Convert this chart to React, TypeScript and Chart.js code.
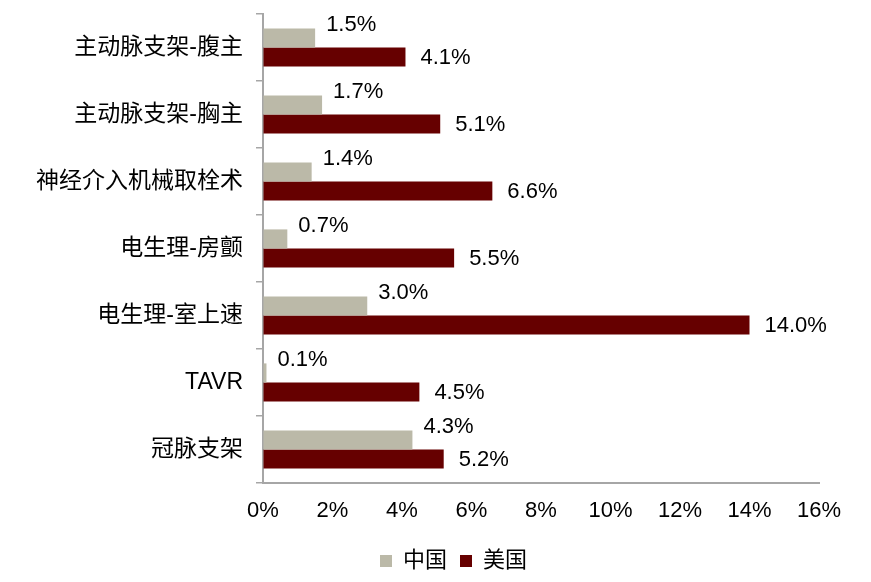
import React, { useEffect, useRef } from "react";
import { Chart, registerables } from "chart.js";

Chart.register(...registerables);

const categories = ["主动脉支架-腹主", "主动脉支架-胸主", "神经介入机械取栓术", "电生理-房颤", "电生理-室上速", "TAVR", "冠脉支架"];
const chinaValues = [1.5, 1.7, 1.4, 0.7, 3.0, 0.1, 4.3];
const usValues = [4.1, 5.1, 6.6, 5.5, 14.0, 4.5, 5.2];
const seriesNames = ["中国", "美国"];
const xTicks = [0, 2, 4, 6, 8, 10, 12, 14, 16];

const FONT = "'Liberation Sans', Arial, 'Noto Sans CJK SC', sans-serif";

const labelPlugin = {
  id: "barLabels",
  afterLayout(chart: any) {
    const lg = chart.legend;
    if (lg) {
      lg.left += 44;
      lg.right += 44;
    }
  },
  afterDatasetsDraw(chart: any) {
    const ctx = chart.ctx;
    ctx.save();
    ctx.font = `22px ${FONT}`;
    ctx.fillStyle = "#000";
    ctx.textBaseline = "middle";
    ctx.textAlign = "left";
    chart.data.datasets.forEach((ds: any, di: number) => {
      const meta = chart.getDatasetMeta(di);
      meta.data.forEach((el: any, i: number) => {
        const v = ds.data[i];
        const txt = v.toFixed(1) + "%";
        const dx = di === 0 ? 11 : 15;
        const dy = di === 0 ? -13 : 1;
        ctx.fillText(txt, el.x + dx, el.y + dy);
      });
    });
    ctx.restore();
  },
};

export default function App() {
  const ref = useRef<HTMLCanvasElement | null>(null);
  useEffect(() => {
    document.body.style.margin = "0";
    const chart = new Chart(ref.current!, {
      type: "bar",
      data: {
        labels: categories,
        datasets: [
          { label: seriesNames[0], data: chinaValues, backgroundColor: "#BBB9A8", categoryPercentage: 0.57, barPercentage: 1 },
          { label: seriesNames[1], data: usValues, backgroundColor: "#660000", categoryPercentage: 0.57, barPercentage: 1 },
        ],
      },
      options: {
        indexAxis: "y",
        animation: false,
        responsive: false,
        devicePixelRatio: 1,
        layout: { padding: { left: 0, right: 52, top: 14, bottom: 0 } },
        plugins: {
          legend: {
            position: "bottom",
            labels: {
              boxWidth: 12,
              boxHeight: 12,
              padding: 13,
              color: "#000",
              font: { size: 22, family: FONT },
            },
          },
          tooltip: { enabled: false },
        },
        scales: {
          x: {
            min: 0,
            max: 16,
            afterBuildTicks(scale: any) {
              scale.ticks = xTicks.map((v) => ({ value: v }));
            },
            afterFit(scale: any) {
              scale.height = 54;
              scale.paddingLeft = 0;
              scale.paddingRight = 0;
            },
            grid: { display: true, drawOnChartArea: false, drawTicks: false },
            border: { display: true, color: "#A6A6A6", width: 2 },
            ticks: {
              padding: 15,
              color: "#000",
              font: { size: 22, family: FONT },
              maxRotation: 0,
              callback: (v: any) => v + "%",
            },
          },
          y: {
            afterFit(scale: any) {
              scale.width = 263;
              scale.paddingTop = 0;
              scale.paddingBottom = 0;
            },
            grid: { display: true, offset: true, drawOnChartArea: false, drawTicks: true, tickLength: 7, color: "#A6A6A6", lineWidth: 1.5 },
            border: { display: true, color: "#A6A6A6", width: 2 },
            ticks: {
              padding: 13,
              color: "#000",
              font: { size: 23, family: FONT },
            },
          },
        },
      },
      plugins: [labelPlugin],
    } as any);
    return () => chart.destroy();
  }, []);
  return (
    <div style={{ position: "absolute", left: 0, top: 0, width: 871, height: 582 }}>
      <canvas ref={ref} width={871} height={582} style={{ width: 871, height: 582 }} />
    </div>
  );
}
